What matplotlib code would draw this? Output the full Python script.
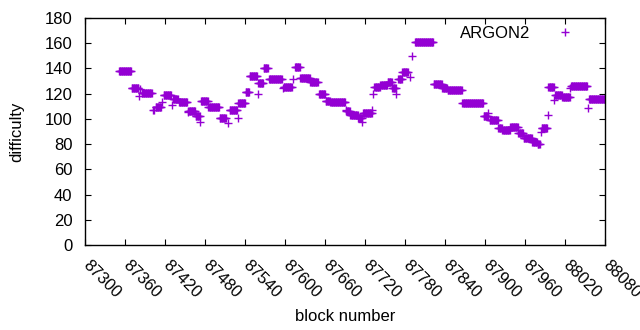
import numpy as np
import matplotlib
matplotlib.use("Agg")
import matplotlib.pyplot as plt

# runs of consecutive blocks sharing one difficulty: (first block, last block, difficulty)
run_start = [87351, 87370, 87381, 87382, 87385, 87402, 87403, 87406, 87415, 87418,
             87430, 87432, 87441, 87454, 87455, 87466, 87473, 87474, 87485, 87502,
             87514, 87517, 87529, 87530, 87541, 87547, 87559, 87560, 87568, 87576,
             87597, 87598, 87612, 87615, 87623, 87638, 87651, 87661, 87668, 87691,
             87692, 87698, 87710, 87716, 87717, 87731, 87732, 87734, 87743, 87754,
             87761, 87767, 87770, 87776, 87788, 87791, 87795, 87823, 87836, 87844,
             87866, 87898, 87905, 87907, 87920, 87926, 87938, 87950, 87958, 87971,
             87979, 87984, 87985, 87994, 87995, 88004, 88005, 88016, 88028, 88029,
             88054, 88056]
run_end = [87369, 87380, 87381, 87382, 87400, 87402, 87403, 87414, 87415, 87429,
           87430, 87439, 87453, 87454, 87465, 87472, 87473, 87484, 87501, 87511,
           87514, 87528, 87529, 87540, 87546, 87558, 87559, 87567, 87574, 87595,
           87597, 87610, 87612, 87622, 87637, 87649, 87660, 87667, 87690, 87691,
           87697, 87709, 87715, 87716, 87730, 87731, 87732, 87742, 87753, 87760,
           87766, 87767, 87775, 87784, 87788, 87791, 87822, 87835, 87843, 87865,
           87897, 87904, 87905, 87919, 87925, 87937, 87949, 87957, 87970, 87978,
           87982, 87984, 87993, 87994, 88003, 88004, 88015, 88027, 88028, 88053,
           88054, 88080]
run_diff = [138, 124.5, 118, 124, 120.5, 107, 107, 109.5, 113, 119,
            111, 116, 113, 105.5, 106, 102, 97.5, 114, 109.5, 101,
            97, 107, 101, 112.6, 121, 134, 120, 128.5, 140, 131.6,
            124.5, 125, 132, 141, 132.5, 129, 120, 114, 113, 107,
            106, 103, 101, 97.5, 105, 107, 120, 125, 127, 129,
            124.5, 120, 132, 137, 133, 150, 161, 127.7, 124.5, 123,
            112.6, 102, 104.7, 99, 93, 91, 93.6, 89, 85, 82,
            80, 89.6, 93, 103, 125, 115, 119, 117, 124.5, 126,
            109, 116]

blocks = np.concatenate([np.arange(s, e + 1) for s, e in zip(run_start, run_end)])
difficulty = np.concatenate([np.full(e - s + 1, d) for s, e, d in zip(run_start, run_end, run_diff)])

x_ticks = np.arange(87300, 88081, 60)
y_ticks = np.arange(0, 181, 20)

plt.rcParams["font.family"] = ["Liberation Sans", "DejaVu Sans"]
fig = plt.figure(figsize=(6.4, 3.3), dpi=100)
ax = fig.add_axes([85 / 640, 85 / 330, 520 / 640, 227 / 330])

ax.plot(blocks, difficulty, linestyle="none", marker="+", markersize=6,
        markeredgewidth=1.0, color="#9400D3", label="ARGON2")

ax.set_xlim(87300, 88080)
ax.set_ylim(0, 180)
ax.set_xticks(x_ticks)
ax.set_yticks(y_ticks)
ax.set_xticklabels([str(t) for t in x_ticks], rotation=-45, ha="left", va="center",
                   rotation_mode="anchor", fontsize=12)
ax.set_yticklabels([str(t) for t in y_ticks], fontsize=12)
ax.tick_params(axis="y", pad=9)
ax.tick_params(axis="x", pad=13)
ax.tick_params(direction="in", top=True, right=True, length=4, width=0.8)
for s in ax.spines.values():
    s.set_linewidth(1.0)

ax.set_xlabel("block number", fontsize=12, labelpad=6)
ax.set_ylabel("difficulty", fontsize=12, labelpad=15)

ax.legend(loc="upper right", bbox_to_anchor=(0.963, 1.0), frameon=False,
          markerfirst=False, fontsize=12, handlelength=1.5, borderaxespad=0.1,
          handletextpad=1.3)

fig.savefig("out.png", dpi=100)
